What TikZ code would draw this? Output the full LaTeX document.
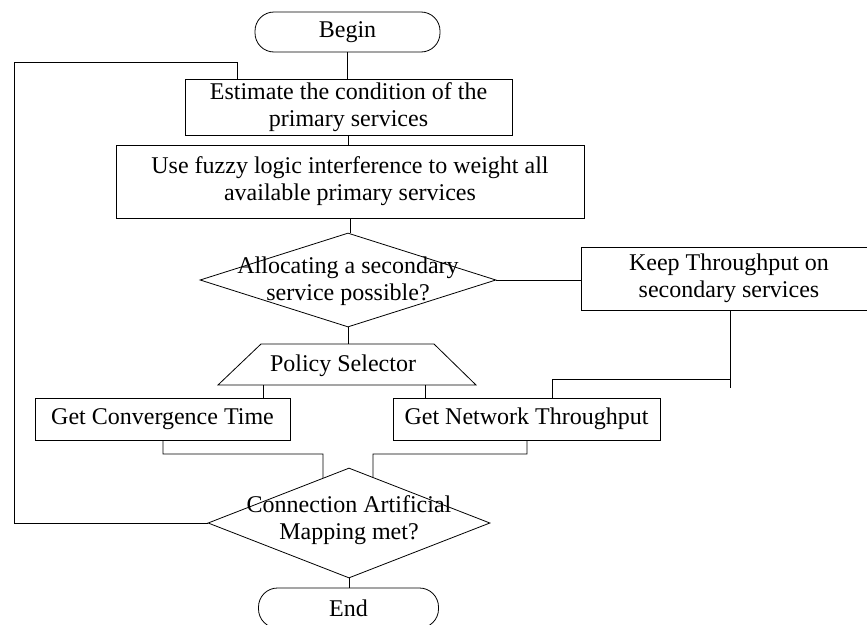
\documentclass[tikz,border=0pt]{standalone}
\usepackage{fontspec}
\setmainfont{Liberation Serif}
\usetikzlibrary{calc,shapes.geometric}
\begin{document}
\begin{tikzpicture}[x=1pt,y=-1pt,
  every node/.style={font=\fontsize{24}{27}\selectfont, align=center, inner sep=0pt},
  box/.style={draw, line width=0.8pt, minimum width=#1},
  term/.style={draw, line width=0.8pt, rounded corners=19pt, minimum height=40pt},
  decision/.style={draw, line width=0.8pt, shape=diamond, inner sep=0pt},
  link/.style={line width=0.8pt}]
\useasboundingbox (0,0) rectangle (867,624);
\clip (0,0) rectangle (867,624);

% start / process boxes
\node[term, minimum width=185pt] (begin) at (347.5,32) {Begin};
\node[box=327pt, minimum height=56pt] (est) at (348.5,107)
  {Estimate the condition of the\\primary services};
\node[box=468pt, minimum height=73pt] (fuzzy) at (350,181.5)
  {Use fuzzy logic interference to weight all\\available primary services};

% first decision
\node[decision, minimum width=296pt, minimum height=94pt] (d1) at (348,280) {};
\node at ($(d1.center)+(0,1)$) {Allocating a secondary\\service possible?};

\node[box=296pt, minimum height=63pt] (keep) at (729,278.5)
  {Keep Throughput on\\secondary services};

% policy selector trapezium
\coordinate (psTL) at (261,344);
\coordinate (psTR) at (434,344);
\coordinate (psBR) at (476,385);
\coordinate (psBL) at (218,385);
\draw[link] (psTL) -- (psTR) -- (psBR) -- (psBL) -- cycle;
\node (ps) at (343,366) {Policy Selector};

\node[box=255pt, minimum height=42pt] (conv) at (162.5,419) {Get Convergence Time};
\node[box=267pt, minimum height=42pt] (net) at (526.5,419) {Get Network Throughput};

% second decision
\node[decision, minimum width=282pt, minimum height=110pt] (d2) at (349,523) {};
\node at ($(d2.center)+(0,-3)$) {Connection Artificial\\Mapping met?};

\node[term, minimum width=180pt] (end) at (348.5,608) {End};

% connectors
\draw[link] (begin.south) -- (begin.south |- est.north);
\draw[link] (est.south) -- (est.south |- fuzzy.north);
\draw[link] (fuzzy.south) -- (fuzzy.south |- d1.north);
\draw[link] (d1.east) -- (d1.east -| keep.west);
\draw[link] (d1.south) -- (d1.south |- psTL);
\draw[link] (263,385) -- (263,0 |- conv.north);
\draw[link] (425,385) -- (425,0 |- net.north);
\coordinate (kb) at (730,388);
\draw[link] (730,0 |- keep.south) -- (kb);
\draw[link] (730,379) -| (552,0 |- net.north);
\draw[link] (163,0 |- conv.south) |- (323,454) -- ($(d2.north)!0.184!(d2.west)$);
\draw[link] (527,0 |- net.south) |- (373,454) -- ($(d2.north)!0.170!(d2.east)$);
\draw[link] (d2.west) -- (14,0 |- d2.west) -- (14,62) -| (237,0 |- est.north);
\draw[link] (d2.south) -- (d2.south |- end.north);
\end{tikzpicture}
\end{document}
